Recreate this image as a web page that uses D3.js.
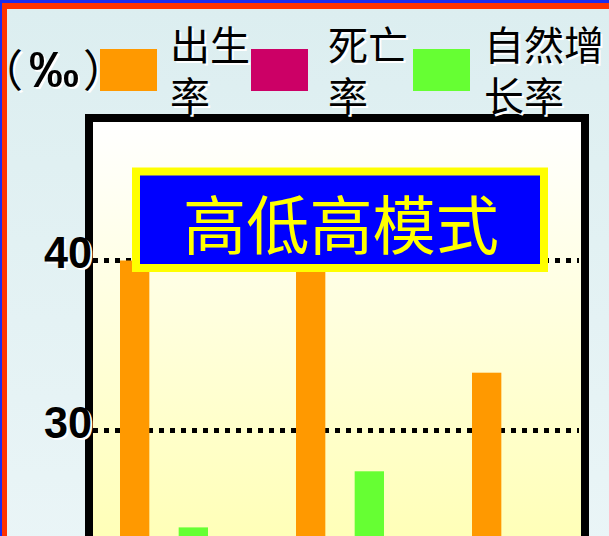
<!DOCTYPE html>
<html><head><meta charset="utf-8">
<script src="https://cdn.jsdelivr.net/npm/d3@7"></script>
<style>html,body{margin:0;padding:0;overflow:hidden;background:#fff}
.halt{font-feature-settings:"halt" 1;}</style>
</head><body><svg id="c" width="609" height="536"></svg>
<script>
// ---- data ----
const categories = ["类型一", "类型二", "类型三"];
const seriesNames = ["出生率", "死亡率", "自然增长率"];
const birthRate = [40.0, 43.0, 33.4];
const deathRate = [15.7, 15.4, 10.0];
const naturalGrowth = [24.3, 27.6, 23.4];
const yTicks = [30, 40];
const unitLabel = "（‰）";
const titleText = "高低高模式";
const seriesColors = ["#FF9900", "#CC0066", "#66FF33"];

const seriesValues = [birthRate, deathRate, naturalGrowth];
const rows = categories.map((c, i) => ({
  cat: c,
  vals: seriesNames.map((s, j) => ({ s, v: seriesValues[j][i] }))
}));

const CJK = "'Noto Sans CJK SC', 'Noto Sans', sans-serif";
const LAT = "'Liberation Sans', Arial, sans-serif";
const svg = d3.select("#c");
const defs = svg.append("defs");

const bgGrad = defs.append("linearGradient").attr("id", "bg").attr("x1", 0).attr("y1", 0).attr("x2", 0).attr("y2", 1);
bgGrad.append("stop").attr("offset", "0%").attr("stop-color", "#DCEEF0");
bgGrad.append("stop").attr("offset", "100%").attr("stop-color", "#EEF7F9");

const plotGrad = defs.append("linearGradient").attr("id", "pg")
  .attr("gradientUnits", "userSpaceOnUse").attr("x1", 0).attr("y1", 122).attr("x2", 0).attr("y2", 536);
plotGrad.append("stop").attr("offset", "0%").attr("stop-color", "#FFFFFF");
plotGrad.append("stop").attr("offset", "100%").attr("stop-color", "#FFFFB8");

// slide background & borders
svg.append("rect").attr("x", 0).attr("y", 0).attr("width", 609).attr("height", 536).attr("fill", "#1A2EF0");
svg.append("rect").attr("x", 2).attr("y", 3).attr("width", 700).attr("height", 700).attr("fill", "#FF3300");
svg.append("rect").attr("x", 7).attr("y", 9).attr("width", 700).attr("height", 700).attr("fill", "url(#bg)");

// scales
const x0 = d3.scaleBand().domain(categories).range([76, 604]).paddingInner(0.5).paddingOuter(0.25);
const x1 = d3.scaleBand().domain(seriesNames).range([0, x0.bandwidth()]);
const y = d3.scaleLinear().domain([0, 50]).range([940.5, 90.5]);
const color = d3.scaleOrdinal().domain(seriesNames).range(seriesColors);

// plot area
const plotLeft = 93, plotRight = 581, plotTop = 122;
svg.append("rect").attr("x", plotLeft).attr("y", plotTop).attr("width", plotRight - plotLeft)
  .attr("height", 600).attr("fill", "url(#pg)");

// dotted gridlines
svg.append("g").selectAll("line").data(yTicks).join("line")
  .attr("x1", plotLeft).attr("x2", plotRight - 2)
  .attr("y1", d => y(d)).attr("y2", d => y(d))
  .attr("stroke", "#000").attr("stroke-width", 5).attr("stroke-dasharray", "5,6");

// bars
svg.append("g").selectAll("g").data(rows).join("g")
  .attr("transform", d => `translate(${x0(d.cat)},0)`)
  .selectAll("rect").data(d => d.vals).join("rect")
  .attr("x", d => x1(d.s)).attr("width", x1.bandwidth())
  .attr("y", d => y(d.v)).attr("height", d => y(0) - y(d.v))
  .attr("fill", d => color(d.s));

// frame
svg.append("rect").attr("x", 89).attr("y", 118).attr("width", 496).attr("height", 700)
  .attr("fill", "none").attr("stroke", "#000").attr("stroke-width", 8);

// y tick labels (with white shadow)
function tickAxis(dx, dy, fill) {
  const ax = d3.axisLeft(y).tickValues(yTicks).tickSize(0).tickPadding(0).tickFormat(d3.format("d"));
  const g = svg.append("g").attr("transform", `translate(${92 + dx},${dy})`).call(ax);
  g.select(".domain").remove();
  g.selectAll("text").attr("dy", "0.16em")
    .attr("font-family", LAT)
    .attr("font-weight", "bold").attr("font-size", 45).attr("fill", fill)
    .attr("textLength", 48).attr("lengthAdjust", "spacingAndGlyphs");
}
tickAxis(2, 2, "#FFFFFF");
tickAxis(0, 0, "#000000");

// title box
svg.append("rect").attr("x", 136).attr("y", 171.5).attr("width", 408).attr("height", 96.5)
  .attr("fill", "#0000FF").attr("stroke", "#FFFF00").attr("stroke-width", 8);
svg.append("text").attr("x", 341).attr("y", 249).attr("text-anchor", "middle")
  .attr("font-family", CJK).attr("font-size", 64).attr("fill", "#FFFF00")
  .attr("textLength", 316).attr("lengthAdjust", "spacingAndGlyphs")
  .text(titleText);

// unit label: characters placed individually (half-width punctuation forms)
const unitChars = Array.from(unitLabel);
const unitX = [1, 29, 83];
const unitFont = [{ f: CJK, s: 44, w: "normal" }, { f: LAT, s: 50, w: "bold" }, { f: CJK, s: 44, w: "normal" }];
[["#FFFFFF", 2], ["#000000", 0]].forEach(([fill, o]) => {
  unitChars.forEach((ch, i) => {
    svg.append("text").attr("class", "halt").attr("x", unitX[i] + o).attr("y", 87 + o)
      .attr("font-family", unitFont[i].f).attr("font-weight", unitFont[i].w)
      .attr("font-size", unitFont[i].s).attr("fill", fill)
      .text(ch);
  });
});

// legend
const legendSwatchX = [100, 251, 413];
const legendTextX = [170, 328, 484];
const legendFont = 40;
const leg = svg.append("g");
seriesNames.forEach((s, i) => {
  leg.append("rect").attr("x", legendSwatchX[i]).attr("y", 49).attr("width", 57).attr("height", 42)
    .attr("fill", color(s));
  const avail = (i < seriesNames.length - 1 ? legendSwatchX[i + 1] : 609) - legendTextX[i];
  const perLine = Math.max(1, Math.floor(avail / legendFont));
  const lines = [];
  for (let k = 0; k < s.length; k += perLine) lines.push(s.slice(k, k + perLine));
  lines.forEach((ln, li) => {
    [["#FFFFFF", 2], ["#000000", 0]].forEach(([f, o]) => {
      leg.append("text").attr("x", legendTextX[i] + o).attr("y", 60 + li * 51 + o)
        .attr("font-family", CJK).attr("font-size", legendFont).attr("fill", f)
        .text(ln);
    });
  });
});
</script></body></html>
